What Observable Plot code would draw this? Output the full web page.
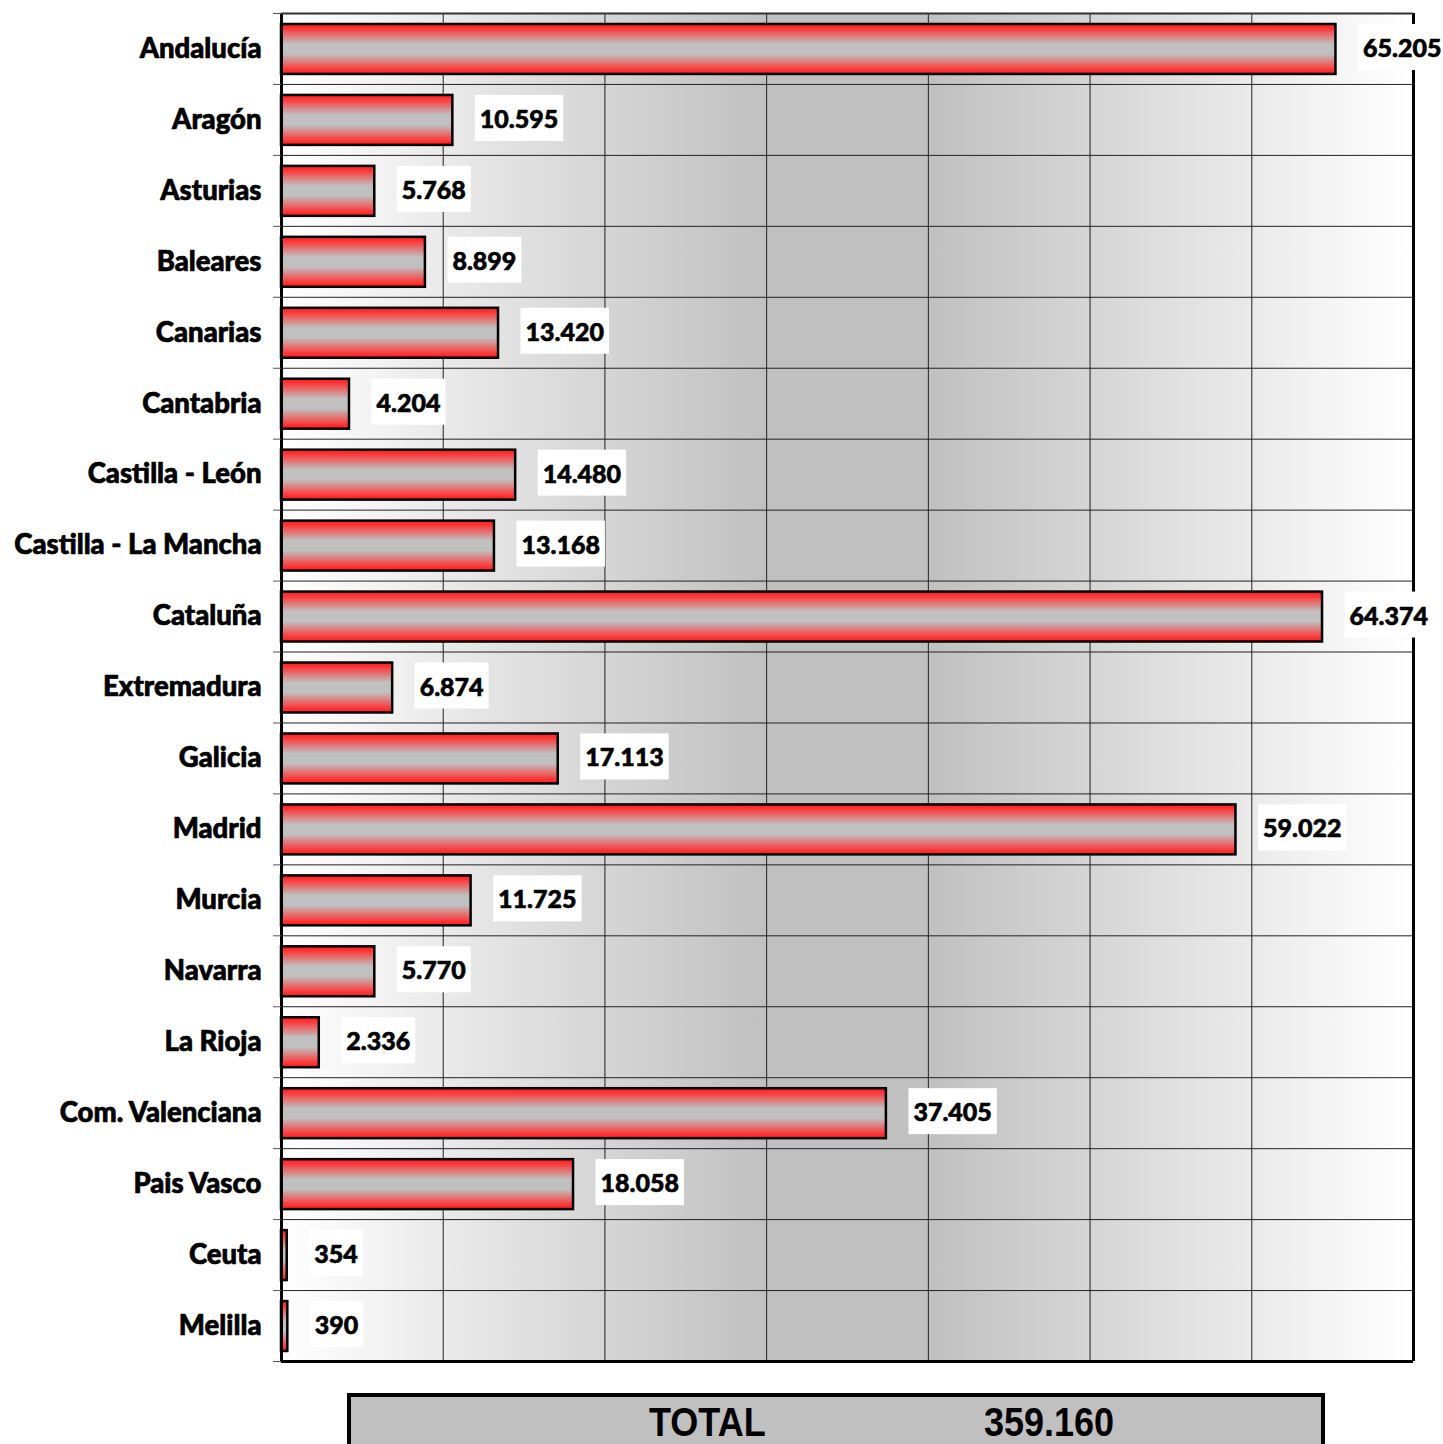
<!DOCTYPE html>
<html><head><meta charset="utf-8">
<script src="https://cdn.jsdelivr.net/npm/d3@7"></script>
<script src="https://cdn.jsdelivr.net/npm/@observablehq/plot@0.6"></script>
<style>
body{margin:0;background:#fff;}
#wrap{position:relative;width:1443px;height:1444px;overflow:hidden;}
#total{position:absolute;left:347px;top:1393px;width:970px;height:70px;background:#c0c0c0;border:4px solid #000;font-family:"Liberation Sans",Arial,sans-serif;font-weight:bold;font-size:40px;color:#000;}
#total span{position:absolute;top:5px;line-height:40px;white-space:nowrap;transform:scaleX(0.9);transform-origin:0 50%;}
</style></head><body><div id="wrap"><div id="chart"></div><div id="total"><span id="tlab"></span><span id="tval"></span></div></div>
<script>
const regions = ["Andalucía","Aragón","Asturias","Baleares","Canarias","Cantabria","Castilla - León","Castilla - La Mancha","Cataluña","Extremadura","Galicia","Madrid","Murcia","Navarra","La Rioja","Com. Valenciana","Pais Vasco","Ceuta","Melilla"];
const values = [65205,10595,5768,8899,13420,4204,14480,13168,64374,6874,17113,59022,11725,5770,2336,37405,18058,354,390];
const xTicks = [0,10000,20000,30000,40000,50000,60000,70000];
const totalLabel = "TOTAL";

const fmt = d3.formatLocale({decimal:",", thousands:".", grouping:[3], currency:["","€"]}).format(",d");
const n = regions.length;
const rows = regions.map((r,i)=>({region:r, value:values[i], i}));
const rowEdges = d3.range(n+1);
const rowCenters = d3.range(n).map(i=>i+0.5);

const defs = () => {
  const g = d3.create("svg:defs");
  const bg = g.append("linearGradient").attr("id","bgGrad").attr("x1",0).attr("x2",1).attr("y1",0).attr("y2",0);
  [[0,"#ffffff"],[0.43,"#c0c0c0"],[0.57,"#c0c0c0"],[1,"#ffffff"]].forEach(([o,c])=>bg.append("stop").attr("offset",o).attr("stop-color",c));
  const bar = g.append("linearGradient").attr("id","barGrad").attr("x1",0).attr("x2",0).attr("y1",0).attr("y2",1);
  [[0,"#ff1a1a"],[0.08,"#ff3333"],[0.4,"#c0c0c0"],[0.6,"#c0c0c0"],[0.92,"#ff3333"],[1,"#ff1a1a"]].forEach(([o,c])=>bar.append("stop").attr("offset",o).attr("stop-color",c));
  return g.node();
};

const chart = Plot.plot({
  width:1443, height:1375,
  marginLeft:281, marginRight:30, marginTop:13, marginBottom:14,
  style:{fontFamily:"Lato, 'DejaVu Sans', sans-serif", background:"transparent"},
  x:{domain:[xTicks[0], xTicks[xTicks.length-1]], axis:null},
  y:{domain:[n,0], label:null},
  marks:[
    defs,
    Plot.frame({fill:"url(#bgGrad)", stroke:"none"}),
    Plot.ruleX(xTicks, {stroke:"#222", strokeWidth:1}),
    Plot.ruleY(rowEdges, {stroke:"#222", strokeWidth:1}),
    Plot.rect(rows, {x1:()=>0, x2:"value", y1:"i", y2:d=>d.i+1, insetTop:11, insetBottom:10, fill:"url(#barGrad)", stroke:"#000", strokeWidth:2.5}),
    Plot.ruleX([xTicks[0], xTicks[xTicks.length-1]], {stroke:"#000", strokeWidth:3}),
    Plot.ruleY([n], {stroke:"#000", strokeWidth:3}),
    Plot.ruleY([0], {stroke:"#333", strokeWidth:2}),
    Plot.axisY(rowEdges, {tickSize:8, tickFormat:()=>"", stroke:"#555", label:null}),
    Plot.axisY(rowCenters, {tickSize:0, tickPadding:20, tickFormat:d=>regions[Math.floor(d)], fontSize:27.5, fontWeight:900, fill:"#000", textStroke:"#000", textStrokeWidth:0.7, label:null}),
    Plot.text(rows, {x:"value", y:d=>d.i+0.5, text:d=>fmt(d.value), dx:27, textAnchor:"start", fontSize:25, fontWeight:900, fill:"#000", stroke:"#000", strokeWidth:0.6})
  ]
});
document.getElementById("chart").appendChild(chart);

// white boxes behind value labels
const labelSet = new Set(values.map(fmt));
chart.querySelectorAll("text").forEach(t=>{
  if (!labelSet.has(t.textContent)) return;
  const b = t.getBBox();
  const r = document.createElementNS("http://www.w3.org/2000/svg","rect");
  r.setAttribute("x", b.x-5); r.setAttribute("y", b.y-8);
  r.setAttribute("width", b.width+10); r.setAttribute("height", b.height+16);
  r.setAttribute("fill","#fff"); r.setAttribute("stroke","none");
  const tr = t.getAttribute("transform"); if (tr) r.setAttribute("transform", tr);
  t.parentNode.insertBefore(r, t);
});

document.getElementById("tlab").textContent = totalLabel;
document.getElementById("tlab").style.left = "298px";
document.getElementById("tval").textContent = fmt(d3.sum(values));
document.getElementById("tval").style.left = "633px";
</script></body></html>
